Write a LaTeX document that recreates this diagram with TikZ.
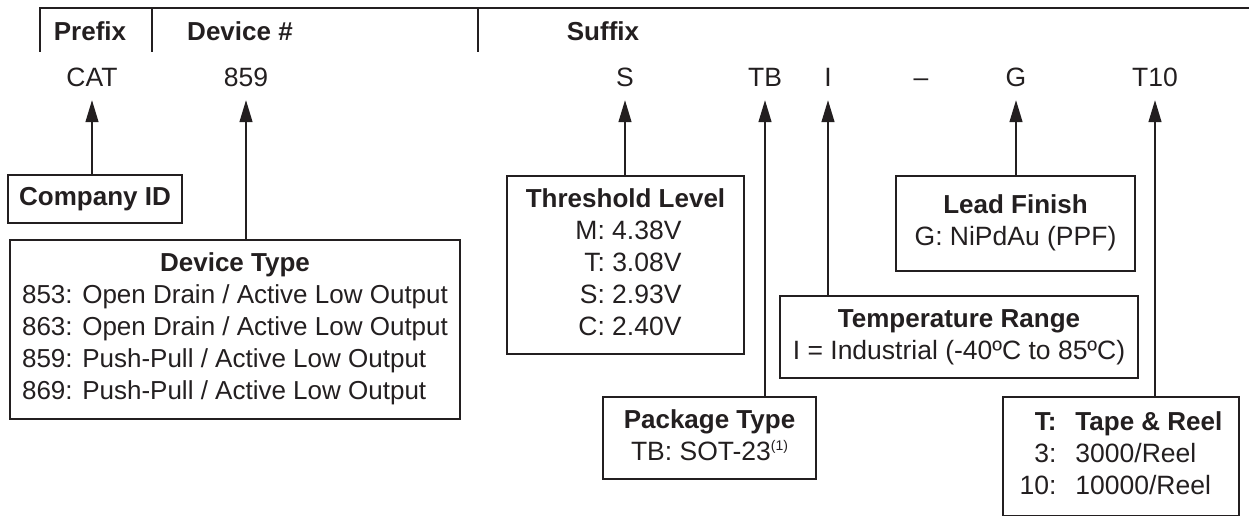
\documentclass[tikz,border=0pt]{standalone}
\usepackage{fontspec}
\setmainfont{Liberation Sans}
\usetikzlibrary{arrows.meta}
\definecolor{ink}{HTML}{231F20}
\begin{document}
\begin{tikzpicture}[x=1pt,y=-1pt,
  every node/.style={text=ink, font=\fontsize{26.5}{32}\selectfont},
  box/.style={draw=ink, line width=2pt, inner sep=0pt, anchor=north west},
  code/.style={anchor=base, text height=19pt, text depth=0pt, inner xsep=0pt, inner ysep=13pt},
  hdr/.style={font=\fontsize{26}{32}\selectfont\bfseries, anchor=base},
  rule/.style={draw=ink, line width=2pt},
  link/.style={draw=ink, line width=1.3pt, -{Triangle[width=13pt,length=22pt]}},
]
\newcommand\bt{\fontsize{26}{32}\selectfont\bfseries}
\useasboundingbox (0,0) rectangle (1249,516);

% header
\draw[rule] (40,52) -- (40,8) -- (1249,8);
\draw[rule] (152,8) -- (152,52);
\draw[rule] (478,8) -- (478,52);
\node[hdr] (hprefix) at (90,41) {Prefix};
\node[hdr] (hdevice) at (240,41) {Device \#};
\node[hdr] (hsuffix) at (603,41) {Suffix};

% code letters
\node[code] (cat) at (92,87) {CAT};
\node[code] (num) at (246,87) {859};
\node[code] (s)   at (625,87) {S};
\node[code] (tb)  at (765,87) {TB};
\node[code] (i)   at (828,87) {I};
\node[code] (dash) at (921,87) {–};
\node[code] (g)   at (1016,87) {G};
\node[code] (t10) at (1155,87) {T10};

% boxes
\node[box, minimum width=174pt, minimum height=48pt] (cid) at (7,174)
  {\bt Company ID};
\node[box, minimum width=450pt, minimum height=179pt] (dtype) at (9,239)
  {\fontsize{26}{32}\selectfont
   \begin{tabular}{@{}l@{}}
   \multicolumn{1}{c}{\bt Device Type}\\
   853: Open Drain / Active Low Output\\
   863: Open Drain / Active Low Output\\
   859: Push-Pull / Active Low Output\\
   869: Push-Pull / Active Low Output
   \end{tabular}};
\node[box, minimum width=237pt, minimum height=178pt] (thr) at (506,175)
  {\begin{tabular}{@{}c@{}}
   \bt Threshold Level\\
   \makebox[112pt][r]{M: 4.38V}\\
   \makebox[112pt][r]{T: 3.08V}\\
   \makebox[112pt][r]{S: 2.93V}\\
   \makebox[112pt][r]{C: 2.40V}
   \end{tabular}};
\node[box, minimum width=213pt, minimum height=82pt] (pkg) at (602,396)
  {\begin{tabular}{@{}c@{}}
   \bt Package Type\\
   TB: SOT-23\raisebox{10pt}{\fontsize{14}{14}\selectfont(1)}
   \end{tabular}};
\node[box, minimum width=358pt, minimum height=82pt] (temp) at (779,295)
  {\begin{tabular}{@{}c@{}}
   \bt Temperature Range\\
   I = Industrial (-40ºC to 85ºC)
   \end{tabular}};
\node[box, minimum width=239pt, minimum height=95pt] (lead) at (895,175)
  {\begin{tabular}{@{}c@{}}
   \bt Lead Finish\\
   G: NiPdAu (PPF)
   \end{tabular}};
\node[box, minimum width=236pt, minimum height=119pt] (tape) at (1002,396)
  {\begin{tabular}{@{}r@{\hspace{19pt}}l@{}}
   \bt T: & \bt Tape \& Reel\\
   3: & 3000/Reel\\
   10: & 10000/Reel
   \end{tabular}};

% connectors
\draw[link] (cat |- cid.north) -- (cat.south);
\draw[link] (num |- dtype.north) -- (num.south);
\draw[link] (s |- thr.north) -- (s.south);
\draw[link] (tb |- pkg.north) -- (tb.south);
\draw[link] (i |- temp.north) -- (i.south);
\draw[link] (g |- lead.north) -- (g.south);
\draw[link] (t10 |- tape.north) -- (t10.south);
\end{tikzpicture}
\end{document}
